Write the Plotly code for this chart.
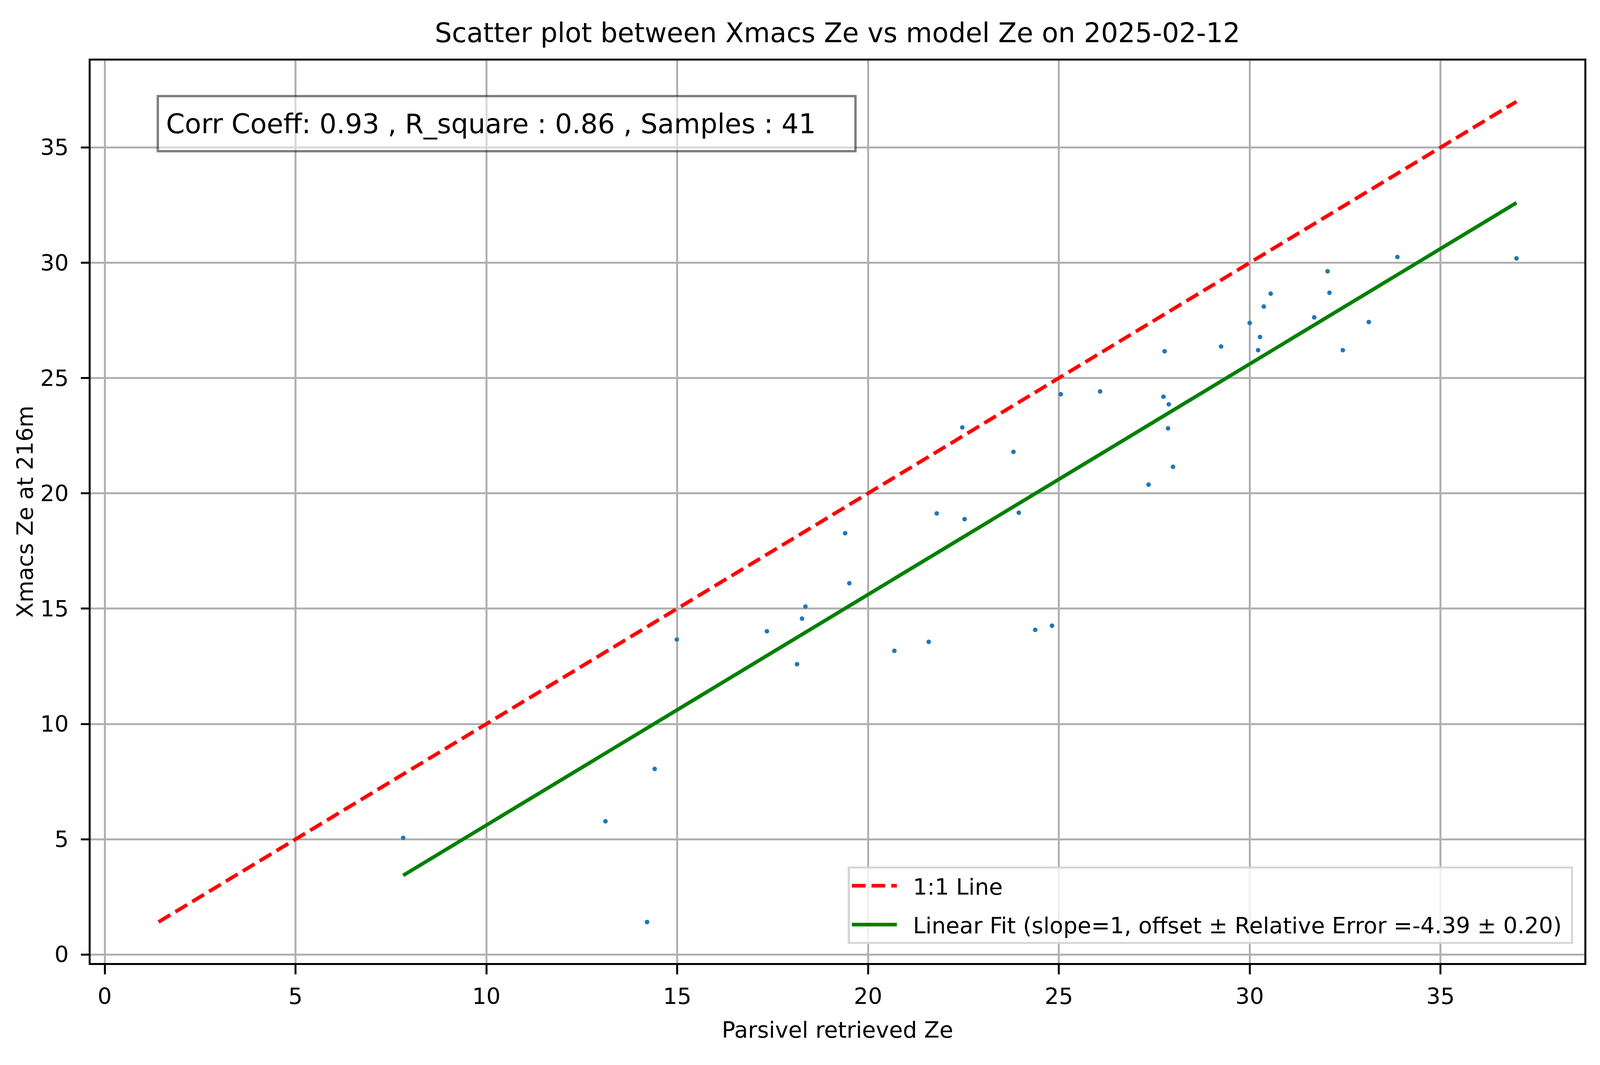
import plotly.graph_objects as go

# =============================================================================
# DATA
# =============================================================================
PARSIVEL_ZE = [7.82, 13.12, 14.21, 14.41, 14.99, 17.35, 18.14, 18.27, 18.36, 19.40,
               19.51, 20.69, 21.59, 21.80, 22.47, 22.53, 23.81, 23.95, 24.38, 24.82,
               25.05, 26.08, 27.35, 27.74, 27.77, 27.88, 27.86, 27.99, 29.25, 30.00,
               30.22, 30.27, 30.37, 30.55, 31.69, 32.04, 32.09, 32.44, 33.12, 33.87,
               36.99]
XMACS_ZE = [5.06, 5.78, 1.41, 8.05, 13.66, 14.02, 12.59, 14.57, 15.09, 18.27,
            16.10, 13.17, 13.56, 19.13, 22.86, 18.88, 21.80, 19.16, 14.08, 14.26,
            24.30, 24.42, 20.38, 24.19, 26.16, 23.86, 22.82, 21.15, 26.37, 27.39,
            26.21, 26.78, 28.10, 28.66, 27.63, 29.63, 28.70, 26.21, 27.43, 30.25,
            30.19]

FIT_SLOPE = 1
FIT_OFFSET = -4.39
FIT_ERROR = 0.20
CORR_COEFF = 0.93
R_SQUARE = 0.86
DATE_STR = "2025-02-12"

# =============================================================================
# STYLE
# =============================================================================
# visible page is ~4096 x 2726 css px; figure sits at (8, 8) because of body margin
W, H = 4088, 2718
S = 4096 / 4981               # reference px -> page px (horizontal)


def hx(p):
    return p * S - 8


def vy(p):
    return p - 8


KF = 0.83                     # font scale
KL = 0.9                      # stroke scale
FONT = "DejaVu Sans"
FS = 69 * KF
FS_BIG = 83 * KF
LW = 5.5 * KL
GRID = "#b0b0b0"
NB = "\u00a0"

# plot area in figure px
L, R = hx(282), W - hx(4932)
T, B = vy(155), H - vy(2465)
PW, PH = W - L - R, H - T - B

# derived lines
lo = min(min(PARSIVEL_ZE), min(XMACS_ZE))
hi = max(max(PARSIVEL_ZE), max(XMACS_ZE))
one_x = [lo, hi]
fit_x = [min(PARSIVEL_ZE), max(PARSIVEL_ZE)]
fit_y = [FIT_SLOPE * v + FIT_OFFSET for v in fit_x]

pad = 0.05 * (hi - lo)
ax_range = [lo - pad, hi + pad]

fig = go.Figure()
fig.add_trace(go.Scatter(
    x=PARSIVEL_ZE, y=XMACS_ZE, mode="markers",
    marker=dict(size=13 * KL, color="#1f77b4", line=dict(width=0)),
    showlegend=False))
fig.add_trace(go.Scatter(
    x=one_x, y=one_x, mode="lines", name=NB * 2 + "1:1 Line", legendgroup="a",
    line=dict(color="red", width=10.4 * KL, dash=f"{39 * KL:.1f}px,{17 * KL:.1f}px")))
fig.add_trace(go.Scatter(
    x=fit_x, y=fit_y, mode="lines", legendgroup="b",
    name=NB * 2 + f"Linear Fit (slope={FIT_SLOPE}, offset ± Relative Error ={FIT_OFFSET:.2f} ± {FIT_ERROR:.2f})" + NB,
    line=dict(color="green", width=10.4 * KL)))

axis_common = dict(
    range=ax_range, dtick=5, tick0=0,
    showgrid=True, gridcolor=GRID, gridwidth=LW,
    showline=True, linecolor="black", linewidth=LW, mirror=True,
    ticks="outside", tickwidth=LW, tickcolor="black",
    zeroline=False, tickfont=dict(size=FS, color="black"),
)
fig.update_xaxes(**axis_common, ticklen=24, ticklabelstandoff=7,
                 title=dict(text="Parsivel retrieved Ze", font=dict(size=FS, color="black"), standoff=35))
fig.update_yaxes(**axis_common, ticklen=24 * S, ticklabelstandoff=20)

fig.update_layout(
    width=W, height=H,
    margin=dict(l=L, r=R, t=T, b=B),
    paper_bgcolor="white", plot_bgcolor="white",
    font=dict(family=FONT, size=FS, color="black"),
    title=dict(text=f"Scatter plot between Xmacs Ze vs model Ze on {DATE_STR}",
               x=0.5, xref="paper", xanchor="center",
               y=1, yref="paper", yanchor="bottom", pad=dict(b=47),
               font=dict(size=FS_BIG, color="black")),
    legend=dict(x=0.9925, y=0.0147 + 15 / PH, xanchor="right", yanchor="bottom",
                bgcolor="rgba(255,255,255,0.8)", bordercolor="#d6d6d6", borderwidth=6 * KL,
                font=dict(size=FS, color="black"), itemwidth=140 * S, tracegroupgap=22),
    annotations=[
        dict(text=f"Corr Coeff: {CORR_COEFF:.2f} , R_square : {R_SQUARE:.2f} , Samples : {len(PARSIVEL_ZE)}",
             xref="paper", yref="paper", x=0.0443, y=0.9619, xanchor="left", yanchor="top",
             showarrow=False, align="left", valign="middle",
             width=2172 * S - 2 * 18 - 6, height=141 - 2 * 18 - 6,
             font=dict(size=FS_BIG, color="black"),
             bgcolor="rgba(255,255,255,0.5)", bordercolor="rgba(0,0,0,0.5)",
             borderwidth=6, borderpad=18),
        # y axis title, placed where matplotlib puts it
        dict(text="Xmacs Ze at 216m", textangle=-90, showarrow=False,
             xref="paper", yref="paper", x=(hx(78) - L) / PW, y=0.5,
             xanchor="center", yanchor="middle",
             font=dict(size=FS, color="black")),
    ],
)

fig.write_html("out.html")
